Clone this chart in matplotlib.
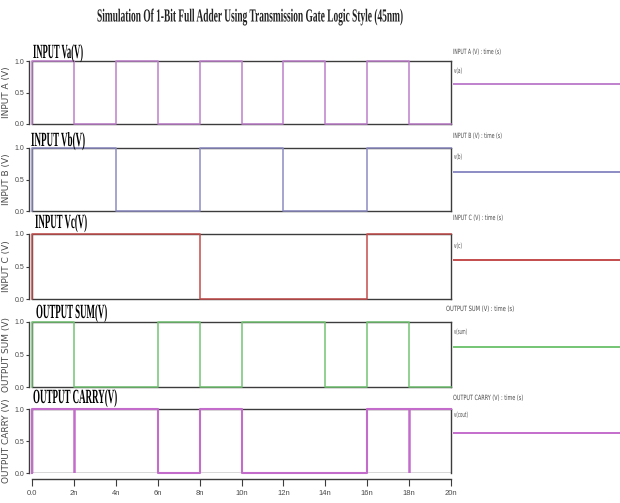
import numpy as np
import matplotlib
matplotlib.use("Agg")
import matplotlib.pyplot as plt
from matplotlib.patheffects import AbstractPathEffect
from matplotlib.transforms import Affine2D
from matplotlib.lines import Line2D

# ---------------- data ----------------
t_edges_ns = [0, 2, 4, 6, 8, 10, 12, 14, 16, 18, 20]
va_levels = [1, 0, 1, 0, 1, 0, 1, 0, 1, 0]
vb_levels = [1, 1, 0, 0, 1, 1, 0, 0, 1, 1]
vc_levels = [1, 1, 1, 1, 0, 0, 0, 0, 1, 1]
sum_levels = [1, 0, 0, 1, 0, 1, 1, 0, 1, 0]
carry_levels = [1, 1, 1, 0, 1, 0, 0, 0, 1, 1]
carry_glitch_ns = [2, 18]
x_ticks_ns = [0, 2, 4, 6, 8, 10, 12, 14, 16, 18, 20]
x_tick_labels = ["0.0", "2n", "4n", "6n", "8n", "10n", "12n", "14n", "16n", "18n", "20n"]
y_ticks = [0.0, 0.5, 1.0]
y_tick_labels = ["0.0", "0.5", "1.0"]

panel_titles = ["INPUT Va(V)", "INPUT Vb(V)", "INPUT Vc(V)", "OUTPUT SUM(V)", "OUTPUT CARRY(V)"]
y_labels = ["INPUT A (V)", "INPUT B (V)", "INPUT C (V)", "OUTPUT SUM (V)", "OUTPUT CARRY (V)"]
legend_headers = ["INPUT A (V) : time (s)", "INPUT B (V) : time (s)", "INPUT C (V) : time (s)",
                  "OUTPUT SUM (V) : time (s)", "OUTPUT CARRY (V) : time (s)"]
legend_names = ["v(a)", "v(b)", "v(c)", "v(sum)", "v(cout)"]
signals = [va_levels, vb_levels, vc_levels, sum_levels, carry_levels]
colors = ["#bf80cc", "#8c8cc4", "#c44c4c", "#74c474", "#c46ccc"]
title = "Simulation Of 1-Bit Full Adder Using Transmission Gate Logic Style (45nm)"

# ---------------- layout ----------------
W, H = 620, 503
fig = plt.figure(figsize=(W / 100, H / 100), dpi=100)
fig.patch.set_facecolor("white")
renderer = fig.canvas.get_renderer()


class Squeeze(AbstractPathEffect):
    def __init__(self, sx, sy=1.0):
        super().__init__()
        self.sx = sx
        self.sy = sy

    def draw_path(self, renderer, gc, tpath, affine, rgbFace=None):
        renderer.draw_path(gc, tpath, Affine2D().scale(self.sx, self.sy) + affine, rgbFace)


def squeezed_text(x_px, y_px, s, target_w, sy=1.0, **kw):
    t = fig.text(x_px / W, 1 - y_px / H, s, ha="left", va="baseline", **kw)
    w = t.get_window_extent(renderer).width
    t.set_path_effects([Squeeze(target_w / w, sy)])
    return t


L, R = 32, 451
panels = [(61, 124), (148, 211), (234, 299), (322, 387), (409, 473)]
title_pos = [(33, 58, 50), (31, 146, 54), (35, 228, 52), (36, 318, 71), (33, 403, 84)]
legend_pos = [(453, 54, 48, 73, 8, 84), (453, 138, 49, 159, 8, 172),
              (453, 220, 50, 248, 8, 260), (446, 311, 68, 334, 13, 347),
              (453, 400, 70, 417, 14, 433)]
frame_c = "#3c3c3c"
gray_txt = "#4a4a4a"

for i, ((top, bot), levels, col) in enumerate(zip(panels, signals, colors)):
    ax = fig.add_axes([L / W, 1 - bot / H, (R - L) / W, (bot - top) / H])
    ax.set_xlim(t_edges_ns[0], t_edges_ns[-1])
    ax.set_ylim(0, 1)
    for sp in ax.spines.values():
        sp.set_color(frame_c)
        sp.set_linewidth(1.0)
    ax.spines["left"].set_position(("outward", 2))
    ax.axvline(0, color=frame_c, lw=1.0, zorder=2.4)
    ax.set_yticks(y_ticks)
    ax.set_yticklabels(y_tick_labels, family="Liberation Sans")
    ax.tick_params(axis="y", length=2.5, width=0.8, colors=frame_c, labelsize=5.0,
                   labelcolor=gray_txt, pad=1.0)
    ax.set_xticks(x_ticks_ns)
    if i < len(panels) - 1:
        ax.tick_params(axis="x", bottom=False, labelbottom=False)
    else:
        ax.spines["bottom"].set_position(("outward", 4))
        ax.axhline(0, color=frame_c, lw=1.0, zorder=2.4)
        ax.set_xticklabels(x_tick_labels, family="Liberation Sans")
        ax.tick_params(axis="x", length=5, width=0.8, colors=frame_c, labelsize=5.5,
                       labelcolor=gray_txt, pad=3)
    xs = [t_edges_ns[0]] + list(t_edges_ns)
    ys = [0] + list(levels) + [levels[-1]]
    lw = 1.5 if i == 4 else 1.1
    ax.step(xs, ys, where="post", color=col, lw=lw, zorder=3, clip_on=False)
    if i == 4:
        ax.vlines(carry_glitch_ns, 0, 1, color=col, lw=1.8, zorder=3)

    # panel title
    tx, ty, tw = title_pos[i]
    squeezed_text(tx, ty, panel_titles[i], tw, family="Liberation Serif",
                  weight="bold", fontsize=14.5, color="black")

    # rotated y label
    fig.text(7 / W, 1 - (top + bot) / 2 / H, y_labels[i], rotation=90, ha="center",
             va="center", fontsize=6.5, color=gray_txt, family="DejaVu Sans")

    # right-hand legend
    hx, hy, hw, ny, nw, ly = legend_pos[i]
    squeezed_text(hx, hy, legend_headers[i], hw, family="DejaVu Sans",
                  fontsize=5.2, color=gray_txt)
    squeezed_text(454, ny, legend_names[i], nw, family="DejaVu Sans",
                  fontsize=5.2, color=gray_txt)
    fig.add_artist(Line2D([454 / W, 1.0], [1 - ly / H, 1 - ly / H], color=col,
                          lw=1.4, transform=fig.transFigure))

squeezed_text(97, 21.5, title, 306, sy=1.3, family="Liberation Serif", weight="bold",
              fontsize=10.2, color="#222222")

fig.savefig("out.png", dpi=100, facecolor="white")
